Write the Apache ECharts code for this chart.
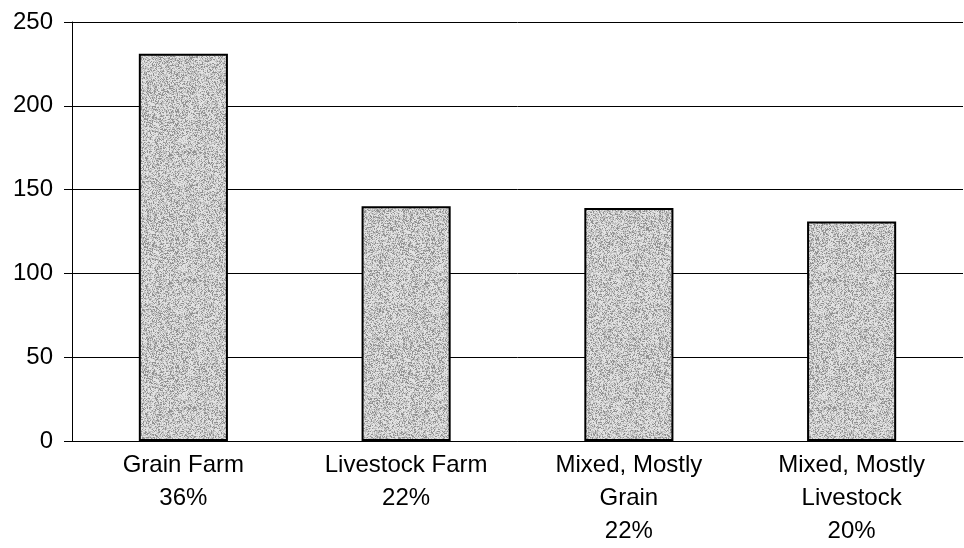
<!DOCTYPE html>
<html>
<head>
<meta charset="utf-8">
<script src="https://cdn.jsdelivr.net/npm/echarts@6/dist/echarts.min.js"></script>
<style>
  html, body { margin: 0; padding: 0; background: #ffffff; }
  #chart { width: 964px; height: 548px; }
</style>
</head>
<body>
<div id="chart"></div>
<script>
// Farm types, their share of farms, and the count shown by each bar
const farmTypes = ['Grain Farm', 'Livestock Farm', 'Mixed, Mostly\nGrain', 'Mixed, Mostly\nLivestock'];
const farmShares = ['36%', '22%', '22%', '20%'];
const farmCounts = [231, 140, 139, 131];
const yTicks = { min: 0, max: 250, interval: 50 };

const categoryLabels = farmTypes.map((t, i) => t + '\n' + farmShares[i]);

// Stippled grey fill tile for the bars (deterministic hash dither)
function makeStipple(size) {
  const c = document.createElement('canvas');
  c.width = size; c.height = size;
  const ctx = c.getContext('2d');
  const img = ctx.createImageData(size, size);
  for (let y = 0; y < size; y++) {
    for (let x = 0; x < size; x++) {
      let h = (x * 374761393 + y * 668265263) >>> 0;
      h = ((h ^ (h >>> 13)) * 1274126177) >>> 0;
      h = (h ^ (h >>> 16)) >>> 0;
      const v = (h % 1000) / 1000;
      const g = v < 0.22 ? 145 : v < 0.6 ? 192 : 226;
      const i = (y * size + x) * 4;
      img.data[i] = g; img.data[i + 1] = g; img.data[i + 2] = g; img.data[i + 3] = 255;
    }
  }
  ctx.putImageData(img, 0, 0);
  return c;
}

const chart = echarts.init(document.getElementById('chart'), null, { renderer: 'canvas' });

const fontFamily = 'Liberation Sans, Arial, sans-serif';

chart.setOption({
  animation: false,
  backgroundColor: '#ffffff',
  textStyle: { fontFamily: fontFamily },
  grid: { left: 72, right: 1, top: 22, bottom: 102, containLabel: false },
  xAxis: {
    type: 'category',
    data: categoryLabels,
    axisLine: { show: true, lineStyle: { color: '#000', width: 1 } },
    axisTick: { show: false },
    axisLabel: {
      interval: 0,
      margin: 8,
      color: '#000',
      fontSize: 24,
      lineHeight: 33,
      fontFamily: fontFamily
    }
  },
  yAxis: {
    type: 'value',
    min: yTicks.min,
    max: yTicks.max,
    interval: yTicks.interval,
    axisLine: { show: true, lineStyle: { color: '#000', width: 1 } },
    axisTick: { show: true, length: 8, lineStyle: { color: '#000' } },
    axisLabel: {
      margin: 19,
      color: '#000',
      fontSize: 24,
      fontFamily: fontFamily
    },
    splitLine: { show: true, lineStyle: { color: '#000', width: 1 } }
  },
  series: [{
    type: 'bar',
    data: farmCounts,
    barWidth: '40%',
    itemStyle: {
      color: { image: makeStipple(128), repeat: 'repeat' },
      borderColor: '#000',
      borderWidth: 2
    }
  }]
});
</script>
</body>
</html>
